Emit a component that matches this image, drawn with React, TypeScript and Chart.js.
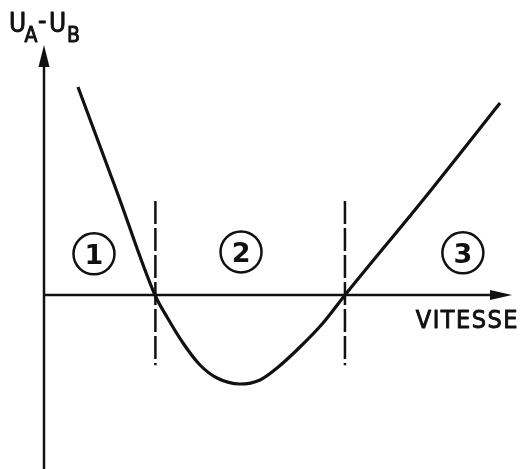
import React, { useEffect, useRef } from "react";
import { Chart, registerables } from "chart.js";

Chart.register(...registerables);

// Curve U_A - U_B as a function of speed (arbitrary units)
const CURVE_X = [0.726, 1.56, 2.37, 2.628, 2.97, 3.333, 3.697, 4.188, 4.615, 4.979, 5.47, 5.962, 6.432, 8.098, 9.744];
const CURVE_Y = [4.444, 2.201, 0.0, -0.47, -1.026, -1.496, -1.774, -1.902, -1.816, -1.56, -1.111, -0.598, 0.0, 2.03, 4.103];

// Zone boundaries (dashed verticals)
const BOUNDARY_X = [2.38, 6.43];
const BOUNDARY_Y_TOP = 2.01;
const BOUNDARY_Y_BOTTOM = -1.5;

// Zone labels (circled numbers)
const ZONE_LABELS = ["1", "2", "3"];
const ZONE_X = [1.068, 4.21, 8.95];
const ZONE_Y = [0.88, 0.92, 0.9];

// Axes extents
const X_AXIS_END = 10.0;
const Y_AXIS_TOP = 5.34;
const Y_AXIS_BOTTOM = -3.72;
const X_LABEL = "VITESSE";

const X_MIN = -0.9402;
const X_MAX = 10.192;
const Y_MIN = -3.718;
const Y_MAX = 6.303;

const W = 521;
const H = 469;

function heavyText(ctx: any, t: string, x: number, y: number, maxW?: number) {
  ctx.lineWidth = 0.9;
  ctx.lineJoin = "round";
  if (maxW) {
    ctx.fillText(t, x, y, maxW);
    ctx.strokeText(t, x, y, maxW);
  } else {
    ctx.fillText(t, x, y);
    ctx.strokeText(t, x, y);
  }
}

const drawPlugin = {
  id: "schematic",
  beforeDatasetsDraw(chart: any) {
    const ctx = chart.ctx;
    const xs = chart.scales.x;
    const ys = chart.scales.y;
    const ox = xs.getPixelForValue(0);
    const oy = ys.getPixelForValue(0);
    const xEnd = xs.getPixelForValue(X_AXIS_END);
    const yTop = ys.getPixelForValue(Y_AXIS_TOP);
    const yBot = ys.getPixelForValue(Y_AXIS_BOTTOM);
    ctx.save();
    ctx.strokeStyle = "#111";
    ctx.fillStyle = "#111";
    ctx.lineWidth = 2.5;
    // y axis
    ctx.beginPath();
    ctx.moveTo(ox, yBot);
    ctx.lineTo(ox, yTop + 15);
    ctx.stroke();
    ctx.beginPath();
    ctx.moveTo(ox, yTop);
    ctx.lineTo(ox - 5.5, yTop + 22);
    ctx.lineTo(ox + 5.5, yTop + 22);
    ctx.closePath();
    ctx.fill();
    // x axis
    ctx.beginPath();
    ctx.moveTo(ox - 1, oy);
    ctx.lineTo(xEnd - 15, oy);
    ctx.stroke();
    ctx.beginPath();
    ctx.moveTo(xEnd, oy);
    ctx.lineTo(xEnd - 22, oy - 5);
    ctx.lineTo(xEnd - 22, oy + 5);
    ctx.closePath();
    ctx.fill();
    ctx.restore();
  },
  afterDraw(chart: any) {
    const ctx = chart.ctx;
    const xs = chart.scales.x;
    const ys = chart.scales.y;
    const ox = xs.getPixelForValue(0);
    const oy = ys.getPixelForValue(0);
    const xEnd = xs.getPixelForValue(X_AXIS_END);
    ctx.save();
    ctx.strokeStyle = "#111";
    ctx.fillStyle = "#111";
    // circled zone numbers
    ZONE_LABELS.forEach((lab, i) => {
      const cx = xs.getPixelForValue(ZONE_X[i]);
      const cy = ys.getPixelForValue(ZONE_Y[i]);
      ctx.lineWidth = 2.5;
      ctx.beginPath();
      ctx.arc(cx, cy, 20.5, 0, Math.PI * 2);
      ctx.stroke();
      ctx.font = "bold 27px 'DejaVu Sans'";
      ctx.textAlign = "center";
      ctx.textBaseline = "alphabetic";
      ctx.fillText(lab, cx, cy + 10);
    });
    // x label
    ctx.font = "25px 'DejaVu Sans Condensed'";
    ctx.textAlign = "right";
    ctx.textBaseline = "alphabetic";
    try { (ctx as any).letterSpacing = "1.5px"; } catch (e) {}
    heavyText(ctx, X_LABEL, xEnd + 7, oy + 33, 106);
    try { (ctx as any).letterSpacing = "0px"; } catch (e) {}
    // y label U_A - U_B
    ctx.textAlign = "left";
    const base = 32;
    ctx.font = "26px 'DejaVu Sans Condensed'";
    heavyText(ctx, "U", ox - 35, base);
    ctx.font = "21px 'DejaVu Sans Condensed'";
    heavyText(ctx, "A", ox - 19.5, base + 9.5);
    ctx.font = "26px 'DejaVu Sans Condensed'";
    heavyText(ctx, "-", ox - 6, base - 3, 9);
    heavyText(ctx, "U", ox + 5, base);
    ctx.font = "21px 'DejaVu Sans Condensed'";
    heavyText(ctx, "B", ox + 23, base + 9.5);
    ctx.restore();
  },
};

export default function App() {
  const ref = useRef<HTMLCanvasElement | null>(null);
  useEffect(() => {
    if (!ref.current) return;
    const curve = CURVE_X.map((x, i) => ({ x, y: CURVE_Y[i] }));
    const dashSets = BOUNDARY_X.map((bx) => ({
      data: [
        { x: bx, y: BOUNDARY_Y_TOP },
        { x: bx, y: BOUNDARY_Y_BOTTOM },
      ],
      showLine: true,
      borderColor: "#111",
      borderWidth: 2.5,
      borderDash: [23, 4],
      pointRadius: 0,
      fill: false,
    }));
    const chart = new Chart(ref.current, {
      type: "scatter",
      data: {
        datasets: [
          {
            data: curve,
            showLine: true,
            borderColor: "#111",
            borderWidth: 3.2,
            pointRadius: 0,
            cubicInterpolationMode: "monotone",
            fill: false,
          } as any,
          ...(dashSets as any[]),
        ],
      },
      options: {
        animation: false,
        responsive: false,
        maintainAspectRatio: false,
        layout: { padding: 0 },
        plugins: { legend: { display: false }, tooltip: { enabled: false } },
        events: [],
        scales: {
          x: { type: "linear", display: false, min: X_MIN, max: X_MAX },
          y: { type: "linear", display: false, min: Y_MIN, max: Y_MAX },
        },
      },
      plugins: [drawPlugin],
    });
    return () => chart.destroy();
  }, []);
  return (
    <div style={{ position: "absolute", left: 0, top: 0, width: W, height: H, background: "#fff" }}>
      <canvas ref={ref} width={W} height={H} style={{ display: "block", width: W, height: H }} />
    </div>
  );
}
